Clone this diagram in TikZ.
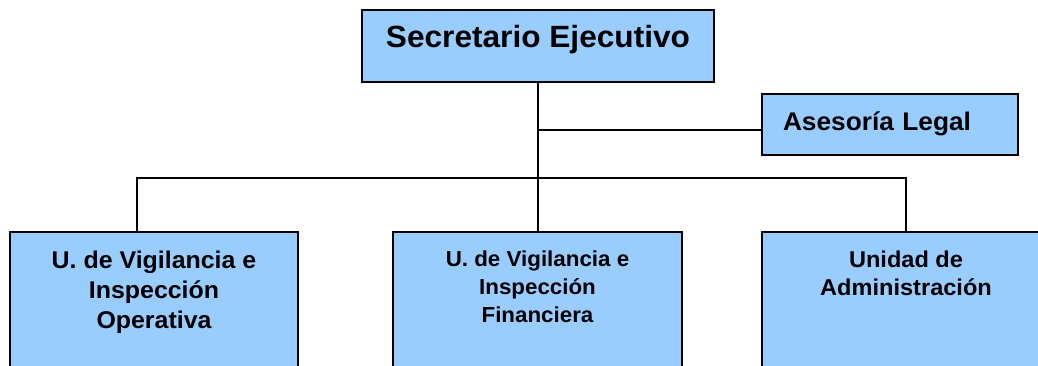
\documentclass[tikz,border=0pt]{standalone}
\usepackage{fontspec}
\setmainfont[FakeStretch=1.03]{Liberation Sans}
\usetikzlibrary{positioning}
\definecolor{boxblue}{HTML}{99CCFF}
\tikzset{unit/.style =
   {rectangle,
    draw,
    fill=boxblue,
    line width=2pt,
    outer sep=0pt,
    inner ysep=0pt}}
\tikzset{link/.style = {draw, line width=1.8pt}}

\begin{document}
\begin{tikzpicture}[x=1pt, y=-1pt]

    \useasboundingbox (0,0) rectangle (1038,365);
    \clip (0,0) rectangle (1038,365);

    \node [unit,
           minimum width=352pt,
           text height=37pt,
           text depth=35pt,
           font=\bfseries\fontsize{30.7}{36}\selectfont,
           anchor=north west] (sec) at (362,10)
    {Secretario Ejecutivo};

    \node [unit,
           text width=214pt,
           align=left,
           inner xsep=21pt,
           text height=36pt,
           text depth=25pt,
           font=\bfseries\fontsize{25.5}{30}\selectfont,
           anchor=north west] (legal) at (762,94)
    {Asesoría Legal};

    \node [unit,
           minimum width=288pt,
           align=center,
           text height=96pt,
           text depth=52pt,
           font=\bfseries\fontsize{24.2}{30}\selectfont,
           anchor=north west] (ope) at (10,232)
    {U. de Vigilancia e\\Inspección\\Operativa};

    \node [unit,
           minimum width=289pt,
           align=center,
           text height=90pt,
           text depth=58pt,
           font=\bfseries\fontsize{21.7}{28}\selectfont,
           node distance = 95pt,
           right = of ope.north east,
           anchor=north west] (fin)
    {U. de Vigilancia e\\Inspección\\Financiera};

    \node [unit,
           minimum width=288pt,
           align=center,
           text height=63pt,
           text depth=85pt,
           font=\bfseries\fontsize{22.9}{28}\selectfont,
           node distance = 80pt,
           right = of fin.north east,
           anchor=north west] (adm)
    {Unidad de\\Administración};

    \coordinate (bus) at (538,178);
    \coordinate (opetop) at (137,232);

    \draw [link] (sec.south) -- (sec.south |- fin.north);
    \draw [link] (sec.south |- legal.base west) -- (legal.base west);
    \draw [link] (opetop) |- (bus) -| (adm.north);

\end{tikzpicture}
\end{document}
